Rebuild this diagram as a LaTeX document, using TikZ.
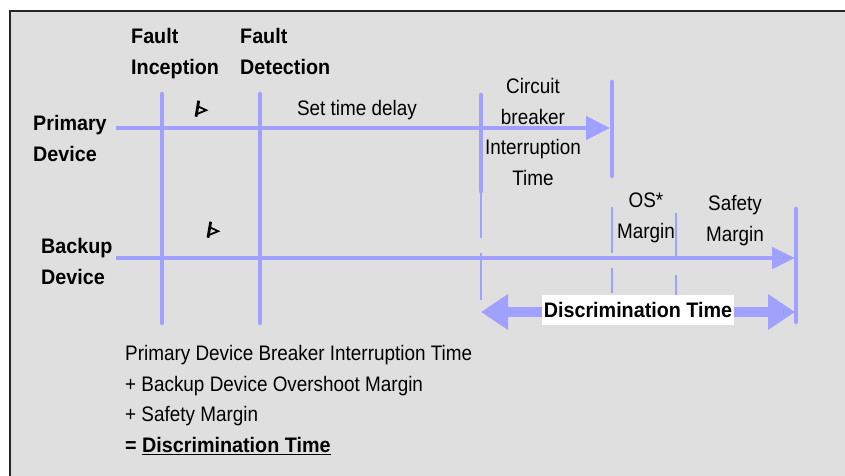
\documentclass[tikz,border=0pt]{standalone}
\usepackage{fontspec}
\setmainfont{Liberation Sans}[FakeStretch=0.9,BoldFeatures={FakeStretch=0.94}]
\usetikzlibrary{arrows.meta}
\definecolor{trace}{RGB}{160,160,255}
\definecolor{panel}{RGB}{223,223,223}

\tikzset{spark/.pic={
  \draw[line width=2.8pt] (0,0) -- (-2.7,16);
  \draw[line width=1.8pt] (-1,5.5) -- (7.5,9.5) -- (-1.7,13.3);
}}

\begin{document}
\begin{tikzpicture}[x=1pt,y=-1pt,
  timeline/.style={draw=trace,line width=4.5pt},
  bar/.style={draw=trace,line width=4.5pt,line cap=round},
  guide/.style={draw=trace,line width=1.3pt},
  tx/.style={inner sep=0pt,font=\fontsize{21}{30.7}\selectfont},
  hd/.style={tx,align=left,font=\fontsize{21}{30.7}\selectfont\bfseries}]
   \useasboundingbox (0,0) rectangle (845,475);
   \fill[white] (0,0) rectangle (845,475);
   \begin{scope}
    \clip (0,0) rectangle (845,475);
    \draw[line width=2pt,draw=black!85,fill=panel] (9.5,10.5) rectangle (870,500);
   \end{scope}
   % time axes
   \coordinate (p0) at (116,128);
   \coordinate (p1) at (610,128);
   \coordinate (b0) at (116,258);
   \coordinate (b1) at (795,258);
   \draw[timeline,-{Triangle[length=24pt,width=23pt]}] (p0) -- (p1);
   \draw[timeline,-{Triangle[length=23pt,width=21pt]}] (b0) -- (b1);
   % event markers
   \draw[bar] (162,94) -- (162,323);
   \draw[bar] (260,94) -- (260,323);
   \draw[bar] (481,95) -- (481,191);
   \draw[bar] (612,82) -- (612,176);
   \draw[bar] (796,209) -- (796,322);
   \draw[guide] (481,191) -- (481,238) (481,253) -- (481,300);
   \draw[guide] (612,207) -- (612,253) (612,268) -- (612,293);
   \draw[guide] (676,213) -- (676,256) (676,275) -- (676,295);
   \path (198.7,100.7) pic {spark};
   \path (210.7,221.7) pic {spark};
   % discrimination span
   \coordinate (d0) at (481,312);
   \coordinate (d1) at (795,312);
   \draw[trace,line width=10pt,{Triangle[length=27pt,width=34pt]}-{Triangle[length=27pt,width=34pt]}] (d0) -- (d1);
   \node[tx,font=\fontsize{21}{30.7}\selectfont\bfseries,fill=white,inner xsep=2pt,minimum height=30pt] (disc) at (638,310) {Discrimination Time};
   % labels
   \node[hd,anchor=north west] (inc) at (131,28) {Fault\\Inception};
   \node[hd,anchor=north west] (det) at (240,28) {Fault\\Detection};
   \node[hd,anchor=north west] (pri) at (33,115) {Primary\\Device};
   \node[hd,anchor=north west] (bak) at (41,238) {Backup\\Device};
   \node[tx,anchor=base] (set) at (357,115) {Set time delay};
   \node[tx,align=center,anchor=north] (cbi) at (533,78) {Circuit\\breaker\\Interruption\\Time};
   \node[tx,align=center,anchor=north] (osm) at (646,193) {OS*\\Margin};
   \node[tx,align=center,anchor=north] (sfm) at (735,195) {Safety\\Margin};
   \node[tx,align=left,anchor=north west] (sum) at (125,345) {Primary Device Breaker Interruption Time\\+ Backup Device Overshoot Margin\\+ Safety Margin\\\textbf{= \underline{Discrimination Time}}};
\end{tikzpicture}
\end{document}
